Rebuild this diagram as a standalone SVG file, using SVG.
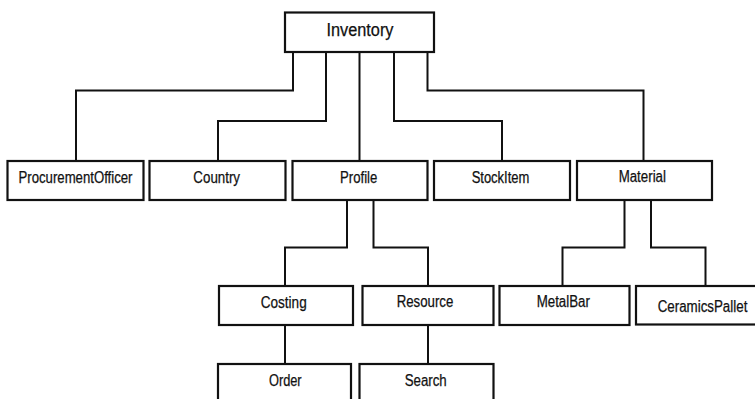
<svg xmlns="http://www.w3.org/2000/svg" width="755" height="399" viewBox="0 0 755 399">
  <style>
    .box { fill: #ffffff; stroke: #111111; stroke-width: 2.2; }
    .link { fill: none; stroke: #111111; stroke-width: 2; stroke-linejoin: miter; }
    .label { font-family: "Liberation Sans", Arial, sans-serif; font-size: 16px; fill: #111111; stroke: #111111; stroke-width: 0.25; text-anchor: middle; }
    .root { font-size: 18px; }
  </style>
  <rect width="755" height="399" fill="#ffffff"/>

  <!-- connectors -->
  <g id="connectors">
    <polyline class="link" points="293,52 293,90.5 76,90.5 76,161"/>
    <polyline class="link" points="326,52 326,121 218,121 218,161"/>
    <polyline class="link" points="359.5,52 359.5,161"/>
    <polyline class="link" points="394,52 394,121 502,121 502,161"/>
    <polyline class="link" points="427.5,52 427.5,90.5 643.5,90.5 643.5,161"/>
    <polyline class="link" points="347,200 347,247.5 285,247.5 285,286"/>
    <polyline class="link" points="373.5,200 373.5,247.5 428,247.5 428,286"/>
    <polyline class="link" points="624.5,200 624.5,247.5 562.5,247.5 562.5,286"/>
    <polyline class="link" points="651,200 651,247.5 705.5,247.5 705.5,286"/>
    <line class="link" x1="285" y1="325" x2="285" y2="364"/>
    <line class="link" x1="428" y1="325" x2="428" y2="364"/>
  </g>

  <!-- nodes -->
  <g id="inventory">
    <rect class="box" x="285" y="12.5" width="149" height="39.5"/>
    <text class="label root" x="360" y="35.5" textLength="67" lengthAdjust="spacingAndGlyphs">Inventory</text>
  </g>
  <g id="procurement-officer">
    <rect class="box" x="7.5" y="161" width="136" height="39"/>
    <text class="label" x="75.5" y="182.7" textLength="114" lengthAdjust="spacingAndGlyphs">ProcurementOfficer</text>
  </g>
  <g id="country">
    <rect class="box" x="149.5" y="161" width="136" height="39"/>
    <text class="label" x="216.7" y="182.7" textLength="46.7" lengthAdjust="spacingAndGlyphs">Country</text>
  </g>
  <g id="profile">
    <rect class="box" x="292.5" y="161" width="135" height="39"/>
    <text class="label" x="358.7" y="182.7" textLength="37.3" lengthAdjust="spacingAndGlyphs">Profile</text>
  </g>
  <g id="stock-item">
    <rect class="box" x="434" y="161" width="136" height="39"/>
    <text class="label" x="500.5" y="182.7" textLength="57.7" lengthAdjust="spacingAndGlyphs">StockItem</text>
  </g>
  <g id="material">
    <rect class="box" x="577" y="161" width="135" height="39"/>
    <text class="label" x="642.3" y="182.3" textLength="47.3" lengthAdjust="spacingAndGlyphs">Material</text>
  </g>
  <g id="costing">
    <rect class="box" x="219" y="286" width="134" height="39"/>
    <text class="label" x="283.7" y="307.5" textLength="46" lengthAdjust="spacingAndGlyphs">Costing</text>
  </g>
  <g id="resource">
    <rect class="box" x="362.5" y="286" width="131" height="39"/>
    <text class="label" x="425" y="307" textLength="56.7" lengthAdjust="spacingAndGlyphs">Resource</text>
  </g>
  <g id="metal-bar">
    <rect class="box" x="499.5" y="286" width="130" height="39"/>
    <text class="label" x="563.3" y="307" textLength="53.3" lengthAdjust="spacingAndGlyphs">MetalBar</text>
  </g>
  <g id="ceramics-pallet">
    <rect class="box" x="636" y="286" width="121" height="38.5"/>
    <text class="label" x="702.5" y="312" textLength="89.7" lengthAdjust="spacingAndGlyphs">CeramicsPallet</text>
  </g>
  <g id="order">
    <rect class="box" x="218" y="364" width="133" height="45"/>
    <text class="label" x="285.3" y="386" textLength="32.7" lengthAdjust="spacingAndGlyphs">Order</text>
  </g>
  <g id="search">
    <rect class="box" x="359.5" y="364" width="134" height="45"/>
    <text class="label" x="425.7" y="386" textLength="42" lengthAdjust="spacingAndGlyphs">Search</text>
  </g>
</svg>
